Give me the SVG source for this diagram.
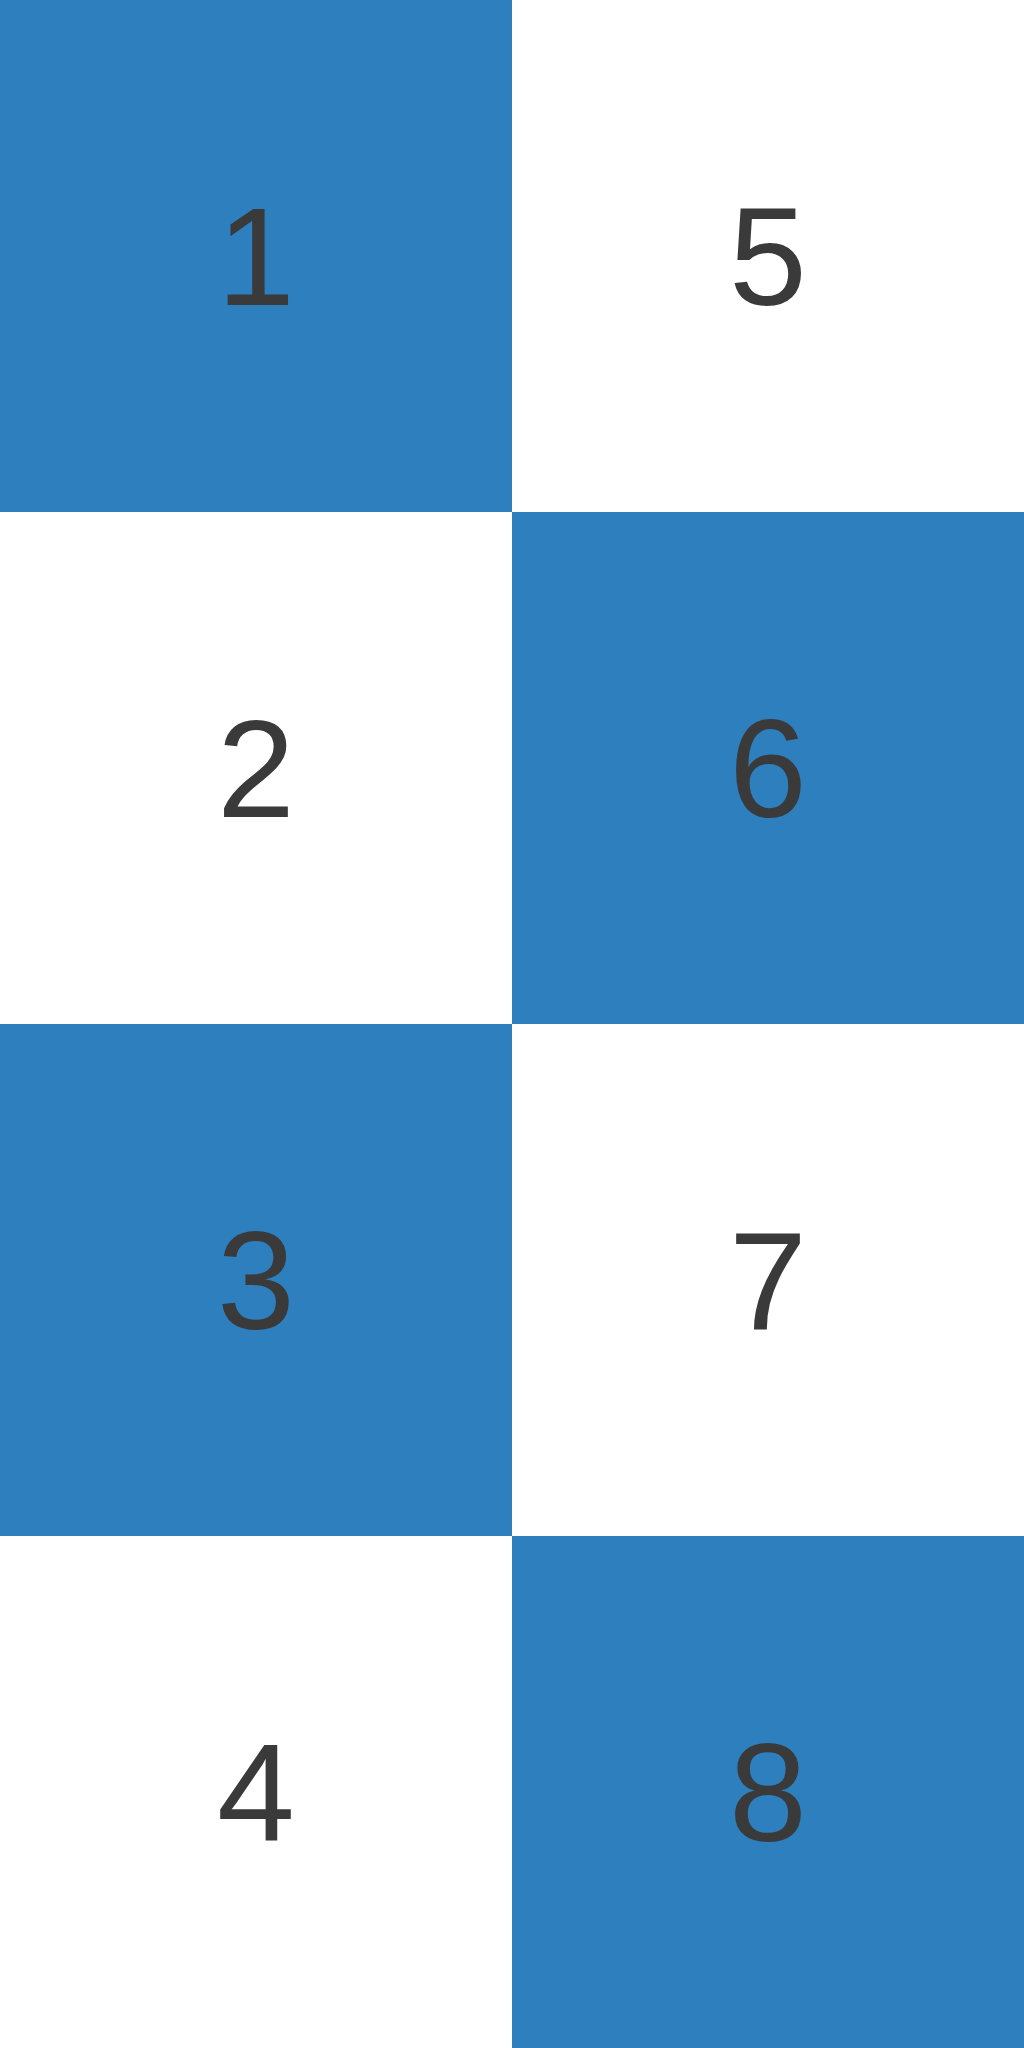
<svg xmlns="http://www.w3.org/2000/svg" width="1024" height="2048" viewBox="0 0 1024 2048">
<style>
.b{fill:#2e7fbe}
.w{fill:#ffffff}
.t{font-family:"Liberation Sans",Arial,sans-serif;font-size:140px;fill:#3a3a3a;text-anchor:middle}
</style>
<rect x="0" y="0" width="1024" height="2048" fill="#ffffff"/>
<g id="n1"><rect class="b" x="0" y="0" width="512" height="512"/><text class="t" x="256" y="305">1</text></g>
<g id="n2"><rect class="w" x="0" y="512" width="512" height="512"/><text class="t" x="256" y="817">2</text></g>
<g id="n3"><rect class="b" x="0" y="1024" width="512" height="512"/><text class="t" x="256" y="1329">3</text></g>
<g id="n4"><rect class="w" x="0" y="1536" width="512" height="512"/><text class="t" x="256" y="1841">4</text></g>
<g id="n5"><rect class="w" x="512" y="0" width="512" height="512"/><text class="t" x="768" y="305">5</text></g>
<g id="n6"><rect class="b" x="512" y="512" width="512" height="512"/><text class="t" x="768" y="817">6</text></g>
<g id="n7"><rect class="w" x="512" y="1024" width="512" height="512"/><text class="t" x="768" y="1329">7</text></g>
<g id="n8"><rect class="b" x="512" y="1536" width="512" height="512"/><text class="t" x="768" y="1841">8</text></g>
<g id="connectors"></g>
</svg>
